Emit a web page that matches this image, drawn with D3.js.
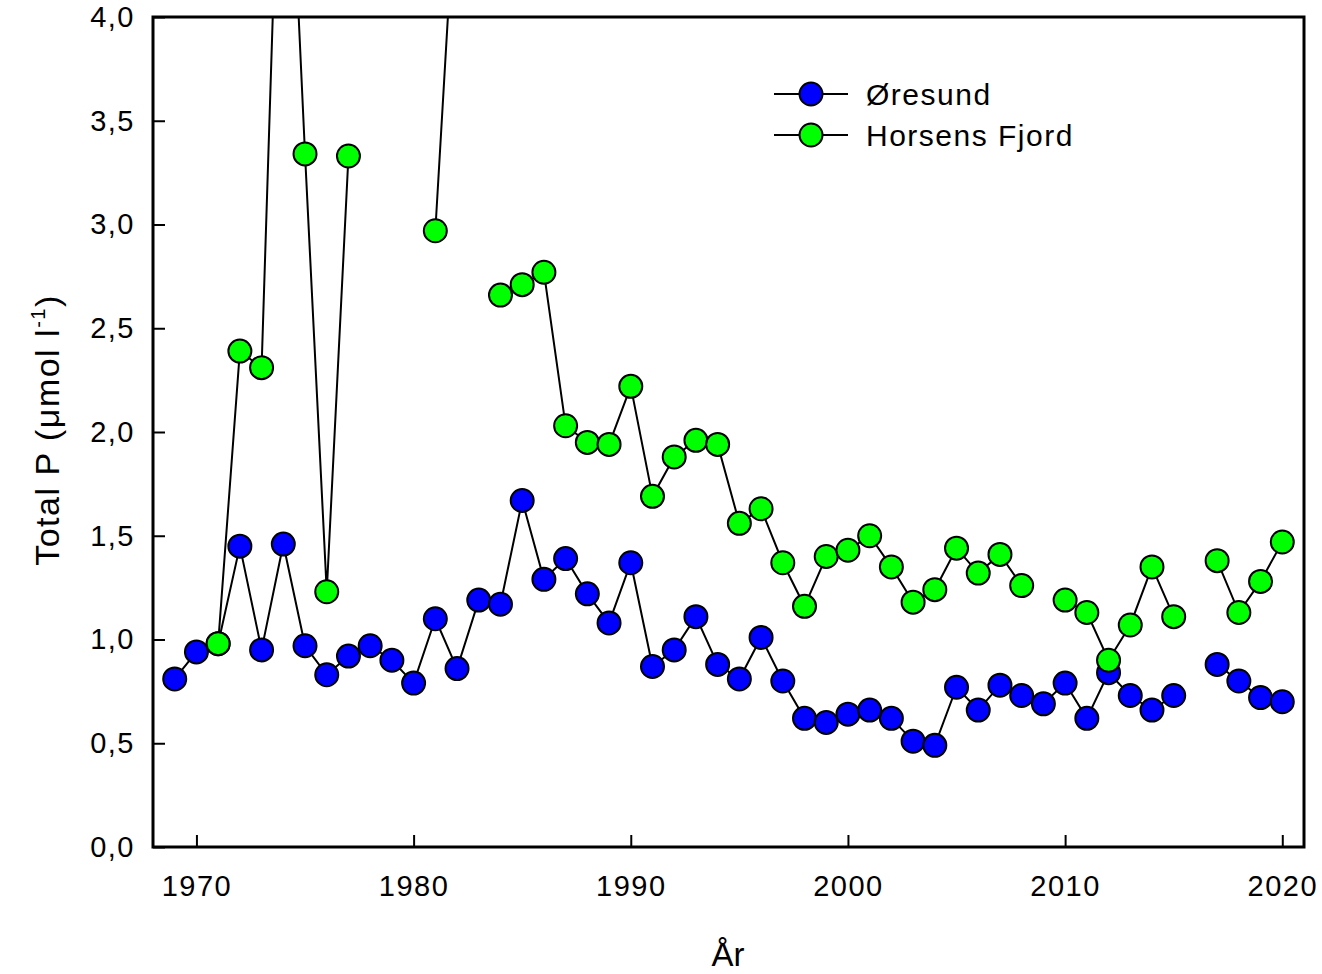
<!DOCTYPE html>
<html>
<head>
<meta charset="utf-8">
<script src="https://cdn.jsdelivr.net/npm/d3@7"></script>
<style>
  body { margin: 0; background: #fff; }
  text { font-family: "Liberation Sans", Arial, sans-serif; fill: #000; }
</style>
</head>
<body>
<div id="div_chart"></div>
<script>
// Years and the two series (null = no measurement)
var years = d3.range(1969, 2021);
var oresund = [0.81, 0.94, 0.98, 1.45, 0.95, 1.46, 0.97, 0.83, 0.92, 0.97,
    0.90, 0.79, 1.10, 0.86, 1.19, 1.17, 1.67, 1.29, 1.39, 1.22,
    1.08, 1.37, 0.87, 0.95, 1.11, 0.88, 0.81, 1.01, 0.80, 0.62,
    0.60, 0.64, 0.66, 0.62, 0.51, 0.49, 0.77, 0.66, 0.78, 0.73,
    0.69, 0.79, 0.62, 0.84, 0.73, 0.66, 0.73, null, 0.88, 0.80,
    0.72, 0.70];
var horsens = [null, null, 0.98, 2.39, 2.31, 5.6, 3.34, 1.23, 3.33, null,
    null, null, 2.97, 4.75, null, 2.66, 2.71, 2.77, 2.03, 1.95,
    1.94, 2.22, 1.69, 1.88, 1.96, 1.94, 1.56, 1.63, 1.37, 1.16,
    1.40, 1.43, 1.50, 1.35, 1.18, 1.24, 1.44, 1.32, 1.41, 1.26,
    null, 1.19, 1.13, 0.90, 1.07, 1.35, 1.11, null, 1.38, 1.13,
    1.28, 1.47];
var seriesNames = ["Øresund", "Horsens Fjord"];
var seriesColors = ["#0000ff", "#00ff00"];
var xTicks = [1970, 1980, 1990, 2000, 2010, 2020];
var yTicks = [0, 0.5, 1, 1.5, 2, 2.5, 3, 3.5, 4];

var margin = {top: 17, right: 18, bottom: 127, left: 153};
var svgWidth = 1322;
var svgHeight = 974;
var graphWidth = svgWidth - margin.left - margin.right;
var graphHeight = svgHeight - margin.top - margin.bottom;

var svg = d3.select("#div_chart")
    .append("svg")
        .attr("width", svgWidth)
        .attr("height", svgHeight)
    .append("g")
        .attr("transform", "translate(" + margin.left + "," + margin.top + ")");

var x = d3.scaleLinear().domain([1968, 2021]).range([0, graphWidth]);
var y = d3.scaleLinear().domain([0, 4]).range([graphHeight, 0]);

svg.append("clipPath").attr("id", "plotClip")
    .append("rect")
        .attr("width", graphWidth)
        .attr("height", graphHeight);

// Axes (ticks pointing inward)
var fmt = function (d) { return d3.format(".1f")(d).replace(".", ","); };
var yAxis = svg.append("g")
    .call(d3.axisLeft(y).tickValues(yTicks).tickSize(-12).tickPadding(18).tickFormat(fmt));
yAxis.selectAll("text").style("font-size", "29px").style("letter-spacing", "1.5px");

var xAxis = svg.append("g")
    .attr("transform", "translate(0," + graphHeight + ")")
    .call(d3.axisBottom(x).tickValues(xTicks).tickSize(-12).tickPadding(28).tickFormat(d3.format("d")));
xAxis.selectAll("text").style("font-size", "29px").style("letter-spacing", "1.5px");

svg.selectAll(".domain").remove();
svg.selectAll(".tick line").attr("stroke", "#000").attr("stroke-width", 2);

// Frame
svg.append("rect")
    .attr("width", graphWidth)
    .attr("height", graphHeight)
    .attr("fill", "none")
    .attr("stroke", "#000")
    .attr("stroke-width", 3);

// Series
var line = d3.line()
    .defined(d => d.v != null)
    .x(d => x(d.year))
    .y(d => y(d.v));

var plot = svg.append("g").attr("clip-path", "url(#plotClip)");

[oresund, horsens].forEach(function (values, i) {
    var data = years.map((yr, k) => ({year: yr, v: values[k]}));
    plot.append("path")
        .datum(data)
        .attr("d", line)
        .attr("fill", "none")
        .attr("stroke", "#000")
        .attr("stroke-width", 2);
    plot.selectAll(".dot" + i)
        .data(data.filter(d => d.v != null))
        .enter()
        .append("circle")
        .attr("cx", d => x(d.year))
        .attr("cy", d => y(d.v))
        .attr("r", 11.5)
        .attr("fill", seriesColors[i])
        .attr("stroke", "#000")
        .attr("stroke-width", 2);
});

// Legend
var legend = svg.append("g").attr("transform", "translate(" + (774 - margin.left) + "," + (94 - margin.top) + ")");
seriesNames.forEach(function (name, i) {
    var g = legend.append("g").attr("transform", "translate(0," + (i * 41) + ")");
    g.append("line").attr("x1", 0).attr("x2", 74).attr("stroke", "#000").attr("stroke-width", 2);
    g.append("circle").attr("cx", 37).attr("r", 11.5)
        .attr("fill", seriesColors[i]).attr("stroke", "#000").attr("stroke-width", 2);
    g.append("text").attr("x", 92).attr("y", 11)
        .style("font-size", "30px").style("letter-spacing", "1.5px")
        .text(name);
});

// Axis titles
svg.append("text")
    .attr("transform", "translate(" + (-94) + "," + (430 - margin.top) + ")rotate(-90)")
    .attr("text-anchor", "middle")
    .style("font-size", "34px")
    .style("letter-spacing", "1.5px")
    .html("Total P (μmol l<tspan dy='-14' style='font-size:20px'>-1</tspan><tspan dy='14'>)</tspan>");

svg.append("text")
    .attr("x", 728 - margin.left)
    .attr("y", 966 - margin.top)
    .attr("text-anchor", "middle")
    .style("font-size", "33px")
    .text("År");
</script>
</body>
</html>
